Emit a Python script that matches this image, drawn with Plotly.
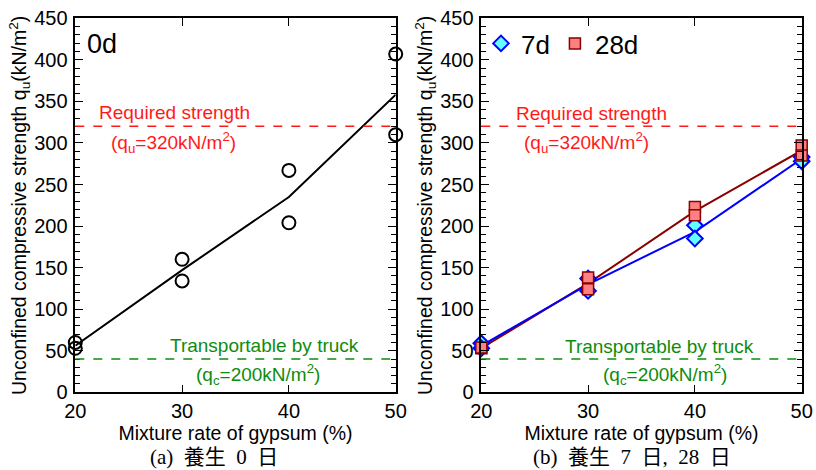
import plotly.graph_objects as go

# ---------------- data ----------------
gypsum = [20, 30, 40, 50]

# (a) 0 day curing: two specimens per mixture rate
d0_x = [20, 20, 30, 30, 40, 40, 50, 50]
d0_y = [53, 60, 160, 134, 267, 204, 407, 310]
d0_mean = [56, 147, 235, 358]

# (b) 7 day curing
d7_x = [20, 20, 30, 30, 40, 40, 50, 50]
d7_y = [59, 53, 137, 122, 201, 185, 283, 278]
d7_mean = [56, 130, 193, 281]

# (b) 28 day curing
d28_x = [20, 20, 30, 30, 40, 40, 50, 50]
d28_y = [53, 54, 138, 124, 223, 213, 297, 285]
d28_mean = [53, 131, 218, 291]

REQUIRED = 320   # required strength line
TRUCK = 40       # transportable by truck line

x_ticks = [20, 30, 40, 50]
y_ticks = [0, 50, 100, 150, 200, 250, 300, 350, 400, 450]

# ---------------- styles ----------------
FONT = "Liberation Sans, Arial, sans-serif"
SERIF = "Liberation Serif, Noto Sans CJK JP, serif"
RED = "#FF1a1a"
GREEN = "#0E8C0E"
NB = "\u00a0"

W, H = 816, 470

fig = go.Figure()

# (a)
fig.add_trace(go.Scatter(x=gypsum, y=d0_mean, mode="lines",
                         line=dict(color="black", width=2),
                         xaxis="x", yaxis="y", showlegend=False))
fig.add_trace(go.Scatter(x=d0_x, y=d0_y, mode="markers",
                         marker=dict(symbol="circle-open", size=13,
                                     line=dict(color="black", width=2), color="black"),
                         xaxis="x", yaxis="y", showlegend=False, cliponaxis=False))

# (b)
fig.add_trace(go.Scatter(x=gypsum, y=d28_mean, mode="lines",
                         line=dict(color="#8B0000", width=2),
                         xaxis="x2", yaxis="y2", showlegend=False))
fig.add_trace(go.Scatter(x=gypsum, y=d7_mean, mode="lines",
                         line=dict(color="#0000FF", width=2),
                         xaxis="x2", yaxis="y2", showlegend=False))
fig.add_trace(go.Scatter(x=d7_x, y=d7_y, mode="markers", name="7d",
                         marker=dict(symbol="diamond", size=12, color="#66FFFF",
                                     line=dict(color="#0000FF", width=2)),
                         xaxis="x2", yaxis="y2", cliponaxis=False))
fig.add_trace(go.Scatter(x=d28_x, y=d28_y, mode="markers", name="28d",
                         marker=dict(symbol="square", size=11, color="#FF8080",
                                     line=dict(color="#8B0000", width=1.5)),
                         xaxis="x2", yaxis="y2", cliponaxis=False))

xdom1 = [75.3 / W, 395.7 / W]
xdom2 = [481.3 / W, 801.7 / W]
ydom = [(H - 392.3) / H, (H - 18.3) / H]

def xaxis(dom, anchor):
    return dict(domain=dom, anchor=anchor, range=[20, 50], tickvals=x_ticks,
                ticks="inside", ticklen=8, tickwidth=1.2, tickcolor="black",
                showline=True, linecolor="black", linewidth=1.5, mirror="ticks",
                showgrid=False, zeroline=False, automargin=False,
                ticklabeloverflow="allow",
                tickfont=dict(family=FONT, size=20, color="black"),
                title=dict(text="Mixture rate of gypsum (%)", standoff=4,
                           font=dict(family=FONT, size=19.5, color="black")))

def yaxis(anchor):
    return dict(domain=ydom, anchor=anchor, range=[0, 450], tickvals=y_ticks,
                ticks="inside", ticklen=8, tickwidth=1.2, tickcolor="black",
                minor=dict(dtick=10, ticks="inside", ticklen=5, tickwidth=1, tickcolor="black"),
                showline=True, linecolor="black", linewidth=1.5, mirror="ticks",
                showgrid=False, zeroline=False, ticklabelstandoff=2, automargin=False,
                ticklabeloverflow="allow",
                tickfont=dict(family=FONT, size=20, color="black"),
                title=dict(text="Unconfined compressive strength q<sub>u</sub>(kN/m<sup>2</sup>)",
                           standoff=2, font=dict(family=FONT, size=19.5, color="black")))

shapes = []
for xr, yr in (("x", "y"), ("x2", "y2")):
    shapes.append(dict(type="line", xref=xr + " domain", yref=yr, x0=0, x1=1,
                       y0=REQUIRED, y1=REQUIRED, line=dict(color=RED, width=1.5, dash="dash")))
    shapes.append(dict(type="line", xref=xr + " domain", yref=yr, x0=0, x1=1,
                       y0=TRUCK, y1=TRUCK, line=dict(color=GREEN, width=1.5, dash="dash")))

ann = []
def txt(xr, yr, x, y, text, color, size=19, family=FONT, xanchor="center", **kw):
    ann.append(dict(xref=xr, yref=yr, x=x, y=y, text=text, showarrow=False,
                    xanchor=xanchor, yanchor="middle",
                    font=dict(family=family, size=size, color=color), **kw))

txt("x", "y", 29.33, 337, "Required strength", RED)
txt("x", "y", 29.15, 300, "(q<sub>u</sub>=320kN/m<sup>2</sup>)", RED)
txt("x", "y", 37.76, 56, "Transportable by truck", GREEN)
txt("x", "y", 37.1, 22, "(q<sub>c</sub>=200kN/m<sup>2</sup>)", GREEN)
txt("x2", "y2", 30.34, 336, "Required strength", RED)
txt("x2", "y2", 29.87, 301, "(q<sub>u</sub>=320kN/m<sup>2</sup>)", RED)
txt("x2", "y2", 36.73, 55, "Transportable by truck", GREEN)
txt("x2", "y2", 37.2, 22, "(q<sub>c</sub>=200kN/m<sup>2</sup>)", GREEN)
txt("x domain", "y domain", 0.03, 0.931, "0d", "black", size=27, xanchor="left")
txt("paper", "paper", 214 / W, (H - 457) / H,
    "(a)" + NB * 2 + "養生" + NB * 2 + "0" + NB * 2 + "日", "black", size=21, family=SERIF)
txt("paper", "paper", 632 / W, (H - 457) / H,
    "(b)" + NB * 2 + "養生" + NB * 2 + "7" + NB * 2 + "日," + NB * 2 + "28" + NB * 2 + "日",
    "black", size=21, family=SERIF)

fig.update_layout(
    width=W, height=H,
    margin=dict(l=0, r=0, t=0, b=0),
    paper_bgcolor="white", plot_bgcolor="white",
    xaxis=xaxis(xdom1, "y"), yaxis=yaxis("x"),
    xaxis2=xaxis(xdom2, "y2"), yaxis2=yaxis("x2"),
    shapes=shapes, annotations=ann,
    legend=dict(orientation="h", x=481 / W, y=1 - 20 / H, xanchor="left", yanchor="top",
                font=dict(family=FONT, size=26, color="black"),
                bgcolor="rgba(0,0,0,0)", itemwidth=30, traceorder="normal"),
)

fig.write_html(
    "out.html",
    config={"displayModeBar": False},
    post_script="document.body.style.margin='0';document.body.style.padding='0';"
                "document.body.style.overflow='hidden';",
)
